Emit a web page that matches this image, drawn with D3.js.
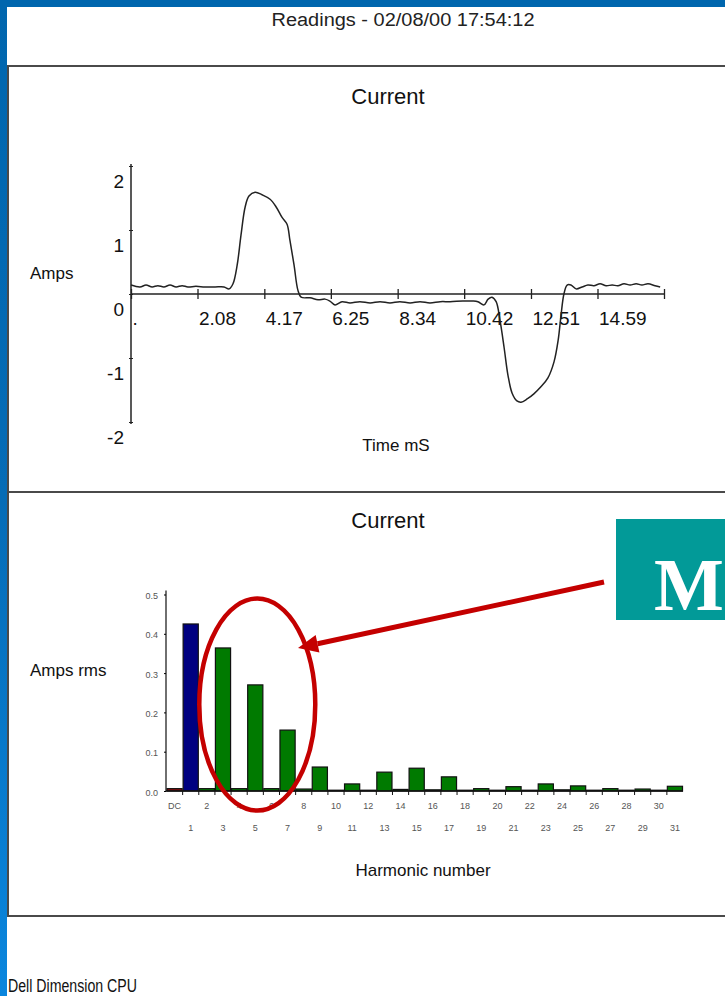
<!DOCTYPE html>
<html>
<head>
<meta charset="utf-8">
<script src="https://cdn.jsdelivr.net/npm/d3@7/dist/d3.min.js"></script>
<style>
  body { margin: 0; background: #fff; }
  svg { display: block; font-family: 'Liberation Sans', Arial, sans-serif; }
</style>
</head>
<body>
<div id="chart"></div>
<script>
// waveform readings (ms, amps)
const waveTime = [0.00, 0.28, 0.47, 0.66, 0.84, 1.03, 1.22, 1.41, 1.60, 1.78, 2.03, 2.31, 2.63, 2.91,
  3.07, 3.19, 3.32, 3.44, 3.57, 3.69, 3.88, 4.10, 4.35, 4.54, 4.72, 4.88, 4.97, 5.10, 5.22, 5.32,
  5.60, 5.85, 6.07, 6.22, 6.38, 6.60, 6.85, 7.16, 7.48, 7.79, 8.10, 8.41, 8.73, 9.04, 9.35, 9.67,
  9.98, 10.38, 10.67, 10.85, 11.04, 11.17, 11.29, 11.42, 11.54, 11.67, 11.79, 11.92, 12.07, 12.20,
  12.39, 12.60, 12.82, 13.04, 13.23, 13.36, 13.45, 13.54, 13.64, 13.76, 13.92, 14.11, 14.29, 14.48,
  14.67, 14.86, 15.05, 15.23, 15.42, 15.61, 15.80, 15.98, 16.17, 16.39, 16.55]
const waveAmps = [0.14, 0.11, 0.14, 0.11, 0.13, 0.11, 0.14, 0.11, 0.13, 0.11, 0.12, 0.11, 0.11, 0.11,
  0.08, 0.16, 0.45, 0.92, 1.36, 1.53, 1.59, 1.55, 1.48, 1.36, 1.20, 1.09, 0.84, 0.45, 0.06, -0.05,
  -0.06, -0.09, -0.08, -0.11, -0.17, -0.12, -0.14, -0.12, -0.14, -0.12, -0.14, -0.12, -0.14, -0.12, -0.14, -0.12,
  -0.12, -0.11, -0.11, -0.12, -0.17, -0.08, -0.05, -0.12, -0.41, -0.84, -1.27, -1.55, -1.67, -1.69,
  -1.64, -1.56, -1.45, -1.31, -1.06, -0.72, -0.33, 0.00, 0.14, 0.14, 0.08, 0.11, 0.14, 0.13,
  0.16, 0.13, 0.14, 0.13, 0.16, 0.14, 0.16, 0.14, 0.16, 0.13, 0.11]

const timeTicks = [0, 2.08, 4.17, 6.25, 8.34, 10.42, 12.51, 14.59, 16.67]
const timeTickLabels = ['.', '2.08', '4.17', '6.25', '8.34', '10.42', '12.51', '14.59', '']
const ampTicks = [-2, -1, 0, 1, 2]

// harmonic spectrum
const harmonics = ['DC', '1', '2', '3', '4', '5', '6', '7', '8', '9', '10', '11', '12', '13', '14', '15',
  '16', '17', '18', '19', '20', '21', '22', '23', '24', '25', '26', '27', '28', '29', '30', '31']
const harmonicAmps = [0.006, 0.425, 0.006, 0.364, 0.006, 0.270, 0.006, 0.155, 0.005, 0.061, 0.002, 0.018,
  0.002, 0.048, 0.004, 0.058, 0.003, 0.036, 0.002, 0.006, 0.002, 0.011, 0.002, 0.018, 0.003, 0.013,
  0.002, 0.006, 0.002, 0.005, 0.002, 0.012]
const rmsTicks = [0, 0.1, 0.2, 0.3, 0.4, 0.5]

const width = 725
const height = 996

const svg = d3.select('#chart')
  .append('svg')
  .attr('width', width)
  .attr('height', height)

// blue slide frame
const grad = svg.append('defs').append('linearGradient')
  .attr('id', 'side')
  .attr('x1', 0).attr('y1', 0).attr('x2', 0).attr('y2', 1)
grad.append('stop').attr('offset', '0%').attr('stop-color', '#0066ae')
grad.append('stop').attr('offset', '50%').attr('stop-color', '#066cb6')
grad.append('stop').attr('offset', '100%').attr('stop-color', '#0a86de')

svg.append('rect').attr('width', 7).attr('height', height).attr('fill', 'url(#side)')
svg.append('rect').attr('width', width).attr('height', 7).attr('fill', '#0066ae')

svg.append('text')
  .attr('x', 403)
  .attr('y', 26)
  .attr('text-anchor', 'middle')
  .style('font-size', '18px')
  .attr('textLength', 263)
  .attr('lengthAdjust', 'spacingAndGlyphs')
  .style('fill', '#222')
  .text('Readings - 02/08/00 17:54:12')

// panel boxes
svg.append('rect').attr('x', 8).attr('y', 66).attr('width', 730).attr('height', 426)
  .attr('fill', 'none').attr('stroke', '#4a4a4a').attr('stroke-width', 2)
svg.append('rect').attr('x', 8).attr('y', 492).attr('width', 730).attr('height', 424)
  .attr('fill', 'none').attr('stroke', '#4a4a4a').attr('stroke-width', 2)

// ---------- Current waveform ----------

const x = d3.scaleLinear().domain([0, 16.67]).range([131, 664])
const y = d3.scaleLinear().domain([-2, 2]).range([422, 166])

svg.append('text')
  .attr('x', 388).attr('y', 104)
  .attr('text-anchor', 'middle')
  .style('font-size', '22px')
  .style('fill', '#111')
  .text('Current')

const yAxis = svg.append('g')
  .attr('transform', `translate(${x(0)},0)`)
  .call(d3.axisLeft(y).tickValues(ampTicks).tickSize(3).tickFormat(d => String(d)))
yAxis.select('.domain').attr('d', `M0,${y(2) - 2}V${y(-2) + 2}`).attr('stroke', '#222').attr('stroke-width', 1.5)
yAxis.selectAll('.tick line').attr('x2', -2).attr('x1', 2).attr('stroke', '#222')
yAxis.selectAll('.tick text')
  .attr('x', -7).attr('dy', 21)
  .style('font-size', '19px').style('fill', '#111')
  .style('font-family', "'Liberation Sans', Arial, sans-serif")

const xAxis = svg.append('g')
  .attr('transform', `translate(0,${y(0)})`)
  .call(d3.axisBottom(x).tickValues(timeTicks).tickSize(5).tickFormat((d, i) => timeTickLabels[i]))
xAxis.select('.domain').attr('d', `M${x(0)},0H${x(16.67)}`).attr('stroke', '#222').attr('stroke-width', 1.5)
xAxis.selectAll('.tick line').attr('y1', -5).attr('y2', 5).attr('stroke', '#222').attr('stroke-width', 1.3)
xAxis.selectAll('.tick text')
  .attr('text-anchor', 'start')
  .attr('y', 31).attr('dy', 0).attr('x', 1)
  .style('font-size', '19px').style('fill', '#111')
  .style('font-family', "'Liberation Sans', Arial, sans-serif")

const wave = waveTime.map((t, i) => ({ t: t, a: waveAmps[i] }))

svg.append('path')
  .datum(wave)
  .attr('fill', 'none')
  .attr('stroke', '#222')
  .attr('stroke-width', 1.5)
  .attr('d', d3.line().x(d => x(d.t)).y(d => y(d.a)).curve(d3.curveCatmullRom))

svg.append('text')
  .attr('x', 30).attr('y', 279)
  .style('font-size', '17px').style('fill', '#111')
  .text('Amps')

svg.append('text')
  .attr('x', 396).attr('y', 451)
  .attr('text-anchor', 'middle')
  .style('font-size', '17px').style('fill', '#111')
  .text('Time mS')

// ---------- Harmonic spectrum ----------

const xb = d3.scaleBand().domain(harmonics).range([166.5, 683]).paddingInner(0.06).paddingOuter(0.03)
const yb = d3.scaleLinear().domain([0, 0.5]).range([791, 594.5])
const step = xb.step()

svg.append('text')
  .attr('x', 388).attr('y', 528)
  .attr('text-anchor', 'middle')
  .style('font-size', '22px')
  .style('fill', '#111')
  .text('Current')

const yAxisB = svg.append('g')
  .attr('transform', 'translate(166,0)')
  .call(d3.axisLeft(yb).tickValues(rmsTicks).tickSize(2).tickFormat(d3.format('.1f')))
yAxisB.select('.domain').attr('d', `M0,${yb(0.5) - 4}V${yb(0)}`).attr('stroke', '#222').attr('stroke-width', 1.3)
yAxisB.selectAll('.tick text')
  .attr('x', -8).attr('dy', 4)
  .style('font-size', '9px').style('fill', '#555')
  .style('font-family', "'Liberation Sans', Arial, sans-serif")

const barColor = (d, i) => i === 0 ? '#8b0a0a' : (i === 1 ? '#000080' : '#007a00')

svg.append('g')
  .selectAll('rect')
  .data(harmonicAmps)
  .join('rect')
  .attr('x', (d, i) => xb(harmonics[i]))
  .attr('width', xb.bandwidth())
  .attr('y', d => yb(d))
  .attr('height', d => yb(0) - yb(d))
  .attr('fill', barColor)
  .attr('stroke', '#111')
  .attr('stroke-width', 1.2)

// baseline + little ticks between bars
svg.append('line')
  .attr('x1', 166).attr('x2', 683)
  .attr('y1', yb(0)).attr('y2', yb(0))
  .attr('stroke', '#111').attr('stroke-width', 1.5)

svg.append('g')
  .selectAll('line')
  .data(harmonics.slice(1))
  .join('line')
  .attr('x1', d => xb(d) - (step - xb.bandwidth()) / 2)
  .attr('x2', d => xb(d) - (step - xb.bandwidth()) / 2)
  .attr('y1', yb(0))
  .attr('y2', yb(0) + 4)
  .attr('stroke', '#111')

svg.append('g')
  .selectAll('text')
  .data(harmonics)
  .join('text')
  .attr('x', d => xb(d) + xb.bandwidth() / 2)
  .attr('y', (d, i) => i % 2 === 0 ? 809 : 831)
  .attr('text-anchor', 'middle')
  .style('font-size', '9px')
  .style('fill', '#555')
  .text(d => d)

svg.append('text')
  .attr('x', 30).attr('y', 676)
  .style('font-size', '17px').style('fill', '#111')
  .text('Amps rms')

svg.append('text')
  .attr('x', 423).attr('y', 876)
  .attr('text-anchor', 'middle')
  .style('font-size', '17px').style('fill', '#111')
  .text('Harmonic number')

// red highlight round 3rd-7th harmonics
svg.append('ellipse')
  .attr('cx', xb('5') + xb.bandwidth() / 2 + 2)
  .attr('cy', yb(0.22))
  .attr('rx', 58)
  .attr('ry', 106)
  .attr('fill', 'none')
  .attr('stroke', '#c40000')
  .attr('stroke-width', 4.5)

const arrowFrom = [604, 582]
const arrowTip = [298, 648]
const dx = arrowTip[0] - arrowFrom[0]
const dy = arrowTip[1] - arrowFrom[1]
const len = Math.hypot(dx, dy)
const ux = dx / len
const uy = dy / len
const headLen = 20
const headW = 9
const bx = arrowTip[0] - ux * headLen
const by = arrowTip[1] - uy * headLen

svg.append('line')
  .attr('x1', arrowFrom[0]).attr('y1', arrowFrom[1])
  .attr('x2', bx).attr('y2', by)
  .attr('stroke', '#c40000').attr('stroke-width', 5)

svg.append('polygon')
  .attr('points', [
    arrowTip,
    [bx - uy * headW, by + ux * headW],
    [bx + uy * headW, by - ux * headW]
  ].map(p => p.join(',')).join(' '))
  .attr('fill', '#c40000')

// teal label box
svg.append('rect')
  .attr('x', 616).attr('y', 519)
  .attr('width', 120).attr('height', 101)
  .attr('fill', '#029a98')

svg.append('text')
  .attr('x', 654).attr('y', 610)
  .style('font-family', "'Liberation Serif', 'Times New Roman', serif")
  .style('font-weight', 'bold')
  .style('font-size', '74px')
  .style('fill', '#fff')
  .text('M')

svg.append('text')
  .attr('x', 8).attr('y', 992)
  .style('font-size', '18px')
  .attr('textLength', 129)
  .attr('lengthAdjust', 'spacingAndGlyphs')
  .style('fill', '#111')
  .text('Dell Dimension CPU')
</script>
</body>
</html>
